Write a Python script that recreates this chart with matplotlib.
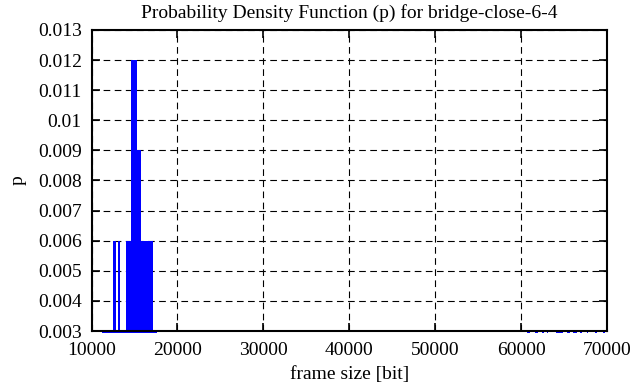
import matplotlib
matplotlib.use("Agg")
import matplotlib.pyplot as plt

# Bars: left edge, right edge (frame size in bit), probability
bar_left = [11186, 12535, 12849, 13082, 13315, 14012, 14594, 15291, 15757, 15955, 16024, 17117,
            60645, 61576, 62390, 62972, 64019, 65298, 65996, 66810, 67624, 68554, 69485]
bar_right = [12535, 12849, 13082, 13315, 14012, 14594, 15291, 15757, 15955, 16024, 17117, 17583,
             60994, 61925, 62623, 63088, 64833, 65647, 66461, 67042, 67740, 68787, 69718]
prob = [0.003, 0.006, 0.003, 0.006, 0.003, 0.006, 0.012, 0.009, 0.006, 0.003, 0.006, 0.003,
        0.003, 0.003, 0.003, 0.003, 0.003, 0.003, 0.003, 0.003, 0.003, 0.003, 0.003]

x_ticks = [10000, 20000, 30000, 40000, 50000, 60000, 70000]
y_ticks = [0.003, 0.004, 0.005, 0.006, 0.007, 0.008, 0.009, 0.01, 0.011, 0.012, 0.013]
y_tick_labels = ["0.003", "0.004", "0.005", "0.006", "0.007", "0.008", "0.009", "0.01", "0.011", "0.012", "0.013"]

plt.rcParams['font.family'] = ['Liberation Serif', 'DejaVu Serif']
plt.rcParams['font.size'] = 14

fig = plt.figure(figsize=(6.36, 3.87), dpi=100)
ax = fig.add_axes([0.1439, 0.1447, 0.9544 - 0.1439, 0.9225 - 0.1447])

ymin, ymax = 0.003, 0.013
base = ymin - 0.00008
widths = [r - l for l, r in zip(bar_left, bar_right)]
heights = [p - base for p in prob]
ax.bar(bar_left, heights, width=widths, bottom=base, align='edge',
       color='#0000ff', edgecolor='none', linewidth=0, clip_on=False, zorder=2)

ax.set_xlim(10000, 70000)
ax.set_ylim(ymin, ymax)
ax.set_xticks(x_ticks)
ax.set_xticklabels([str(t) for t in x_ticks])
ax.set_yticks(y_ticks)
ax.set_yticklabels(y_tick_labels)

ax.grid(True, color='black', linestyle=(0, (6, 4)), linewidth=0.8, zorder=1)
ax.set_axisbelow(True)
for s in ax.spines.values():
    s.set_linewidth(1.5)
    s.set_zorder(3)
ax.tick_params(direction='in', length=6, width=1.2, top=True, right=True)
ax.tick_params(axis='y', pad=7)
ax.tick_params(axis='x', pad=8)

ax.set_title("Probability Density Function (p) for bridge-close-6-4", fontsize=14, pad=9)
ax.set_xlabel("frame size [bit]", labelpad=5)
ax.set_ylabel("p", labelpad=8)

fig.savefig("out.png", dpi=100)
